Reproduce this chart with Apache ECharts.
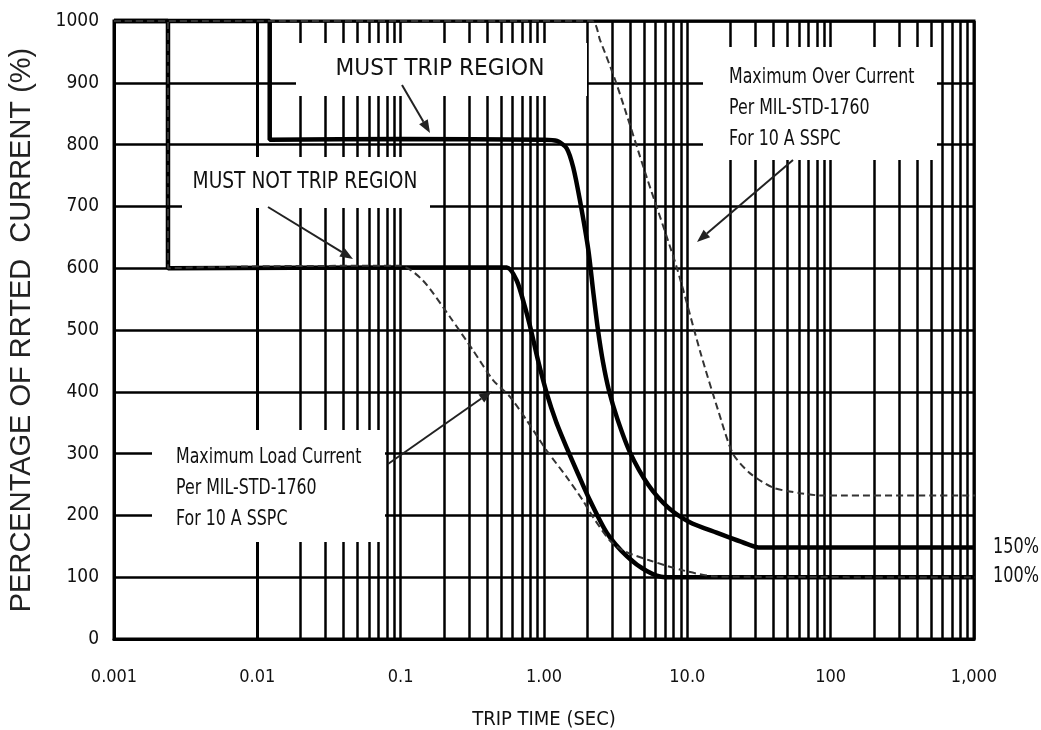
<!DOCTYPE html>
<html style="height: 100%">
<head>
    <meta charset="utf-8">
</head>
<body style="height: 100%; margin: 0; background: #fff">
<div id="container" style="width: 1041px; height: 730px"></div>
<script type="text/javascript" src="https://cdn.jsdelivr.net/npm/echarts@6/dist/echarts.min.js"></script>
<script type="text/javascript">
    var font = "'DejaVu Sans Condensed', 'Liberation Sans Narrow', sans-serif";

    // axis ticks
    var xTickLabels = ['0.001', '0.01', '0.1', '1.00', '10.0', '100', '1,000'];
    var decades = [0.001, 0.01, 0.1, 1, 10, 100];
    var minorSteps = [2, 3, 4, 5, 6, 7, 8, 9];

    // [trip time (s), % of rated current]
    var mustTrip = [[0.001, 1000], [0.0122, 1000], [0.0122, 808], [0.1, 809], [1.0, 808], [1.23, 806],
        [1.44, 794], [1.60, 763], [1.78, 710], [2.04, 629], [2.20, 564], [2.38, 500], [2.58, 448],
        [2.84, 402], [3.24, 357], [3.98, 302], [5.32, 250], [7.33, 213], [10.4, 189], [16, 172],
        [27.4, 152], [32, 148], [1000, 148]];

    var mustNotTrip = [[0.001, 1000], [0.00238, 1000], [0.00238, 600], [0.1, 601], [0.55, 601],
        [0.645, 580], [0.737, 537], [0.811, 500], [0.908, 451], [1.044, 398], [1.213, 352], [1.449, 308],
        [1.729, 267], [2.095, 224], [2.74, 172], [3.78, 134], [5.21, 110], [6.98, 100], [1000, 100]];

    var maxLoad = [[0.001, 1000], [0.00238, 1000], [0.00238, 600], [0.01, 603], [0.1, 604], [0.143, 580],
        [0.221, 521], [0.32, 467], [0.441, 419], [0.579, 392], [0.757, 354], [1.044, 305], [1.44, 262],
        [1.87, 224], [2.2, 197], [2.89, 159], [3.56, 143], [5.49, 127], [9.33, 111], [16, 101],
        [1000, 100], [1130, 100]];

    var maxOver = [[0.001, 1000], [2.15, 1000], [2.46, 969], [3.21, 898], [5.21, 747], [8.44, 601],
        [12.4, 462], [16.4, 370], [20.8, 300], [27.4, 268], [39.6, 245], [61.1, 236], [88.5, 232],
        [1000, 232], [1360, 232]];

    var minorLines = [];
    decades.forEach(function (d) {
        minorSteps.forEach(function (m) {
            minorLines.push({xAxis: d * m});
        });
    });

    function arrow(x1, y1, x2, y2) {
        var a = Math.atan2(y2 - y1, x2 - x1);
        var len = 13, w = 5;
        var bx = x2 - len * Math.cos(a), by = y2 - len * Math.sin(a);
        return [{
            type: 'line', z: 4, silent: true,
            shape: {x1: x1, y1: y1, x2: bx, y2: by},
            style: {stroke: '#222', lineWidth: 2}
        }, {
            type: 'polygon', z: 4, silent: true,
            shape: {points: [[x2, y2], [bx + w * Math.sin(a), by - w * Math.cos(a)], [bx - w * Math.sin(a), by + w * Math.cos(a)]]},
            style: {fill: '#222'}
        }];
    }

    function box(x, y, w, h) {
        return {type: 'rect', z: 2, silent: true, shape: {x: x, y: y, width: w, height: h}, style: {fill: '#fff'}};
    }

    // text squeezed horizontally to imitate the condensed face of the original
    function label(text, x, y, size, sx, align) {
        return {
            type: 'text', z: 4, silent: true,
            x: x, y: y, scaleX: sx,
            style: {
                text: text, x: 0, y: 0, fill: '#111', font: size + 'px ' + font,
                textAlign: align || 'center', textVerticalAlign: 'middle', lineHeight: 31
            }
        };
    }

    var graphics = [
        box(296, 43, 291, 53), box(182, 157, 248, 51), box(703, 47, 234, 113), box(152, 430, 233, 112),
        label('MUST TRIP REGION', 440, 69, 23, 1.05),
        label('MUST NOT TRIP REGION', 305, 182, 23, 0.9),
        label('Maximum Over Current\nPer MIL-STD-1760\nFor 10 A SSPC', 729, 108, 22, 0.8, 'left'),
        label('Maximum Load Current\nPer MIL-STD-1760\nFor 10 A SSPC', 176, 488, 22, 0.8, 'left'),
        label('150%', 993, 548, 21, 0.85, 'left'),
        label('100%', 993, 577, 21, 0.85, 'left')
    ].concat(arrow(402, 85, 430, 133), arrow(268, 207, 353, 259),
        arrow(793, 160, 697, 242), arrow(388, 464, 492, 391));

    var dom = document.getElementById('container');
    var myChart = echarts.init(dom);

    var option = {
        animation: false,
        backgroundColor: '#fff',
        grid: {
            left: 114, right: 67, top: 21, bottom: 91,
            outerBoundsMode: 'none',
            containLabel: false,
            show: true, borderColor: '#000', borderWidth: 3
        },
        xAxis: {
            type: 'log',
            logBase: 10,
            min: 0.001,
            max: 1000,
            name: 'TRIP TIME (SEC)',
            nameLocation: 'middle',
            nameGap: 71,
            nameTextStyle: {fontFamily: font, fontSize: 20, color: '#111'},
            axisLine: {show: true, lineStyle: {color: '#000', width: 3}},
            axisTick: {show: false},
            axisLabel: {
                margin: 29, fontFamily: font, fontSize: 18, color: '#111',
                formatter: function (v, i) { return xTickLabels[i]; }
            },
            splitLine: {show: true, lineStyle: {color: '#000', width: 2.5}}
        },
        yAxis: {
            type: 'value',
            min: 0,
            max: 1000,
            interval: 100,
            name: 'PERCENTAGE OF RRTED  CURRENT (%)',
            nameLocation: 'middle',
            nameRotate: 90,
            nameGap: 78,
            nameTextStyle: {fontFamily: "'Liberation Sans', Arial, sans-serif", fontSize: 29, color: '#222'},
            axisLine: {show: true, lineStyle: {color: '#000', width: 3}},
            axisTick: {show: false},
            axisLabel: {
                margin: 15, fontFamily: font, fontSize: 19, color: '#111',
                formatter: function (v) { return String(v); }
            },
            splitLine: {show: true, lineStyle: {color: '#000', width: 2.5}}
        },
        graphic: graphics,
        series: [{
            type: 'line',
            name: 'grid',
            data: [],
            silent: true,
            markLine: {
                z: 1,
                silent: true,
                symbol: 'none',
                label: {show: false},
                lineStyle: {color: '#000', width: 2.5, type: 'solid'},
                data: minorLines
            }
        }, {
            type: 'line', name: 'Must Trip', data: mustTrip, z: 3,
            smooth: 0.25, showSymbol: false, clip: false,
            lineStyle: {color: '#000', width: 4.5}
        }, {
            type: 'line', name: 'Must Not Trip', data: mustNotTrip, z: 3,
            smooth: 0.25, showSymbol: false, clip: false,
            lineStyle: {color: '#000', width: 4.5}
        }, {
            type: 'line', name: 'Maximum Load Current', data: maxLoad, z: 3,
            smooth: 0.25, showSymbol: false, clip: false,
            lineStyle: {color: '#333', width: 2, type: [7, 4]}
        }, {
            type: 'line', name: 'Maximum Over Current', data: maxOver, z: 3,
            smooth: 0.25, showSymbol: false, clip: false,
            lineStyle: {color: '#333', width: 2, type: [7, 4]}
        }]
    };

    myChart.setOption(option);
</script>
</body>
</html>
